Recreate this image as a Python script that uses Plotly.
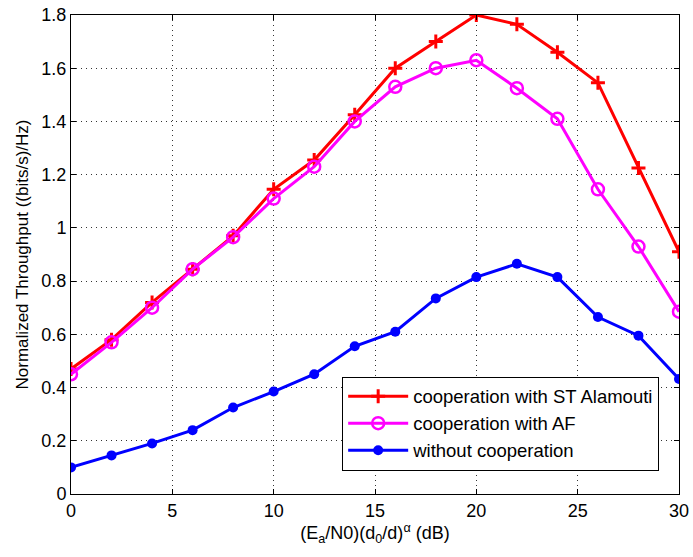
import plotly.graph_objects as go

x = [0, 2, 4, 6, 8, 10, 12, 14, 16, 18, 20, 22, 24, 26, 28, 30]
st_alamouti = [0.47, 0.58, 0.72, 0.845, 0.97, 1.145, 1.255, 1.425, 1.60, 1.70, 1.80, 1.765, 1.66, 1.545, 1.225, 0.91]
af = [0.45, 0.57, 0.70, 0.845, 0.965, 1.11, 1.23, 1.40, 1.53, 1.60, 1.63, 1.525, 1.41, 1.145, 0.93, 0.685]
no_coop = [0.10, 0.145, 0.19, 0.24, 0.325, 0.385, 0.45, 0.555, 0.61, 0.735, 0.815, 0.865, 0.815, 0.665, 0.595, 0.432]

fig = go.Figure()
fig.add_trace(go.Scatter(x=x, y=st_alamouti, mode="lines+markers", name="cooperation with ST Alamouti",
                         line=dict(color="#ff0000", width=3),
                         marker=dict(symbol="cross-thin", size=10, line=dict(color="#ff0000", width=3))))
fig.add_trace(go.Scatter(x=x, y=af, mode="lines+markers", name="cooperation with AF",
                         line=dict(color="#ff00ff", width=3),
                         marker=dict(symbol="circle-open", size=12, line=dict(color="#ff00ff", width=2.5))))
fig.add_trace(go.Scatter(x=x, y=no_coop, mode="lines+markers", name="without cooperation",
                         line=dict(color="#0000ff", width=3),
                         marker=dict(symbol="circle", size=10, color="#0000ff")))

axis_common = dict(showline=True, linecolor="black", linewidth=1, mirror="ticks",
                   ticks="inside", ticklen=5, tickcolor="black", automargin=False,
                   showgrid=True, gridcolor="#333333", griddash="1px,4px", gridwidth=1,
                   zeroline=False, tickfont=dict(size=18, color="black"))

fig.update_xaxes(range=[0, 30], tickvals=[0, 5, 10, 15, 20, 25, 30],
                 title=dict(text="(E<sub>a</sub>/N0)(d<sub>0</sub>/d)<sup>α</sup> (dB)", font=dict(size=18, color="black"), standoff=2),
                 **axis_common)
fig.update_yaxes(range=[0, 1.8], tickvals=[0, 0.2, 0.4, 0.6, 0.8, 1, 1.2, 1.4, 1.6, 1.8],
                 ticktext=["0", "0.2", "0.4", "0.6", "0.8", "1", "1.2", "1.4", "1.6", "1.8"],
                 title=dict(text="Normalized Throughput ((bits/s)/Hz)", font=dict(size=17, color="black"), standoff=8),
                 **axis_common)

fig.update_layout(
    width=693, height=557,
    margin=dict(l=71, r=14, t=15, b=63),
    paper_bgcolor="white", plot_bgcolor="white",
    font=dict(family="Liberation Sans, Arial, sans-serif", size=17, color="black"),
    showlegend=True,
    legend=dict(x=0.446, y=0.245, xanchor="left", yanchor="top",
                bgcolor="white", bordercolor="black", borderwidth=1,
                font=dict(size=18.5, color="black"), tracegroupgap=0, itemwidth=60),
)

fig.write_html("out.html")
